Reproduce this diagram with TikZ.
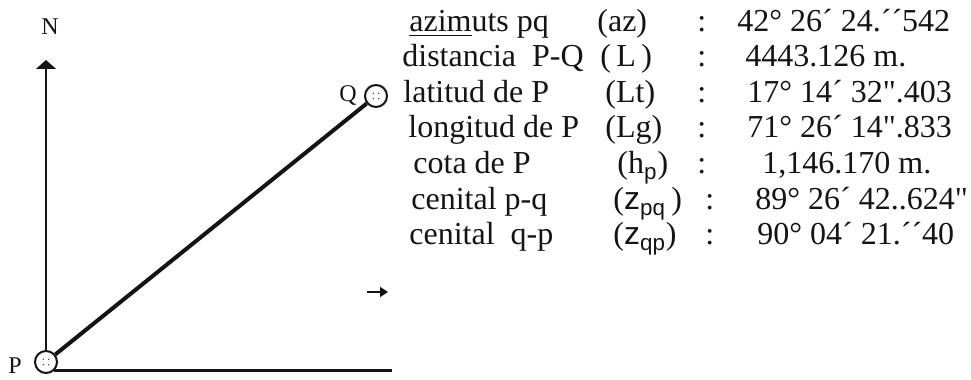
\documentclass[tikz,border=0pt]{standalone}
\usepackage{fontspec}
\setmainfont{Liberation Serif}
\setsansfont{Liberation Sans}
\newfontfamily\datafont{Liberation Serif}
\usetikzlibrary{arrows.meta,calc,positioning}
\definecolor{SurveyInk}{HTML}{141414}
\tikzset{
  station/.style={circle,draw=SurveyInk,line width=1pt,minimum size=11pt,inner sep=0pt,
    path picture={\foreach \dx/\dy in {-1.4/-1.4,-1.4/1.4,1.4/-1.4,1.4/1.4}
      \fill[SurveyInk] ($(path picture bounding box.center)+(\dx pt,\dy pt)$) circle (0.35pt);}},
  pointlabel/.style={inner sep=0pt,text=SurveyInk,font=\fontsize{12}{14}\selectfont},
  datatext/.style={anchor=base west,inner sep=0pt,text=SurveyInk,font=\datafont\fontsize{16}{19}\selectfont},
}
\begin{document}
\begin{tikzpicture}[x=0.5pt,y=0.5pt]
        \useasboundingbox (0,0) rectangle (971,380);
        % stations and their letters
        \node[station] (P) at (46,18) {};
        \node[station] (Q) at (376,284) {};
        \node[pointlabel,anchor=base] (Plbl) at (15,6) {P};
        \node[pointlabel] (Qlbl) at (348,284) {Q};
        \node[pointlabel] (Nlbl) at (50,353) {N};
        % north and east axes
        \coordinate (north) at (46,320);
        \coordinate (east) at (392,10);
        \draw[SurveyInk,line width=0.8pt,-{Triangle[width=10pt,length=4.5pt]}] (P.north) -- (north);
        \draw[SurveyInk,line width=1.1pt] (P.south east) -- (P.south east -| east);
        \draw[SurveyInk,line width=2pt] (P) -- (Q);
        \coordinate (e0) at (367,88);
        \coordinate (e1) at (388,88);
        \draw[SurveyInk,line width=0.8pt,-{Triangle[width=5pt,length=4pt]}] (e0) -- (e1);
        % data of the line P-Q
        \foreach \i/\y/\lx/\sx/\cx/\vx/\lbl/\sym/\val in {
          1/348/409/597/697/737/{\underline{azim}uts pq}/{(az)}/{42° 26´ 24.´´542},
          2/313/402/600/697/745/{distancia\ \ P-Q}/{(\,L\,)}/{4443.126 m.},
          3/277/403/605/697/747/{latitud de P}/{(Lt)}/{17° 14´ 32".403},
          4/242/408/605/697/747/{longitud de P}/{(Lg)}/{71° 26´ 14".833},
          5/206/413/617/697/762/{cota de P}/{(h\textsubscript{\sffamily p})}/{1,146.170 m.},
          6/170/411/613/705/755/{cenital p-q}/{(\textsf{z}\textsubscript{\sffamily pq}\,)}/{89° 26´ 42..624"},
          7/135/409/613/705/757/{cenital\ \ q-p}/{(\textsf{z}\textsubscript{\sffamily qp})}/{90° 04´ 21.´´40}}
        {
          \node[datatext] (lbl\i) at (\lx,\y) {\lbl};
          \node[datatext] (sym\i) at (\sx,\y) {\sym};
          \node[datatext] (col\i) at (\cx,\y) {:};
          \node[datatext] (val\i) at (\vx,\y) {\val};
        }
      \end{tikzpicture}
\end{document}
